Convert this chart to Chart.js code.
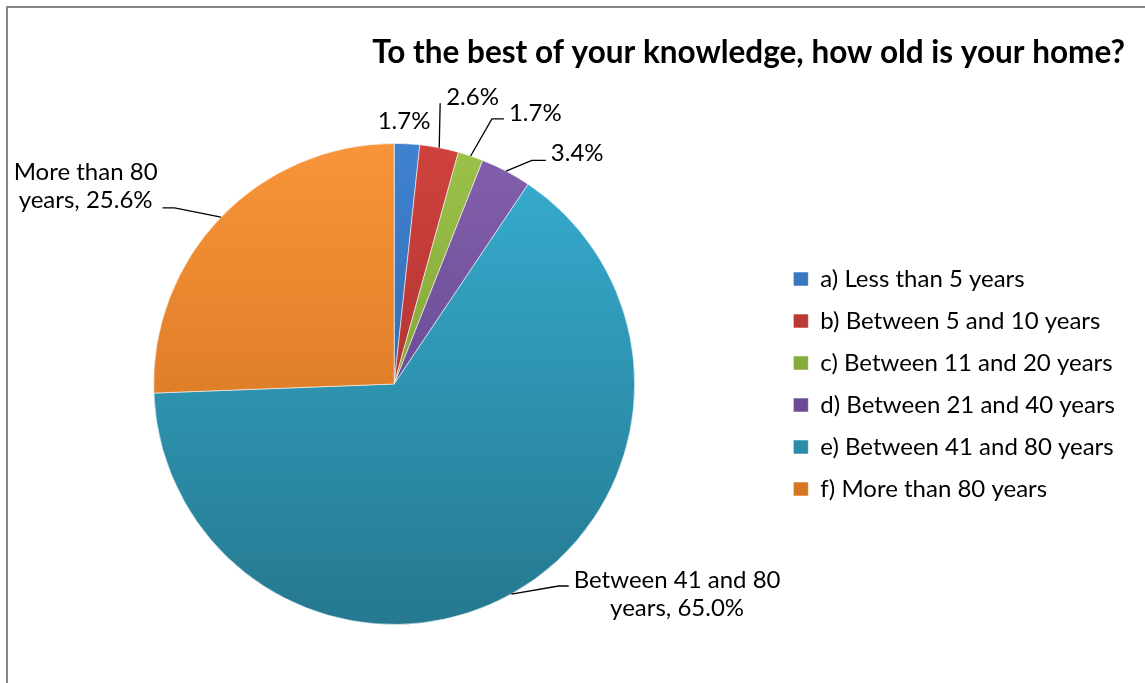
<!DOCTYPE html>
<html>
<head>
<meta charset="utf-8">
<script src="https://cdn.jsdelivr.net/npm/chart.js@4.4.1/dist/chart.umd.min.js"></script>
<style>
  html, body { margin: 0; padding: 0; background: #fff; overflow: hidden; }
  #frame { position: absolute; left: 6px; top: 6px; width: 1200px; height: 740px;
    border-left: 2px solid #868686; border-top: 2px solid #868686; }
  #chart { position: absolute; left: 0; top: 0; }
</style>
</head>
<body>
<div id="frame"></div>
<canvas id="chart" width="1145" height="683"></canvas>
<script>
const legendLabels = [
  'a) Less than 5 years',
  'b) Between 5 and 10 years',
  'c) Between 11 and 20 years',
  'd) Between 21 and 40 years',
  'e) Between 41 and 80 years',
  'f) More than 80 years'
]
const sliceNames = [
  'Less than 5 years',
  'Between 5 and 10 years',
  'Between 11 and 20 years',
  'Between 21 and 40 years',
  'Between 41 and 80 years',
  'More than 80 years'
]
const shares = [1.7, 2.6, 1.7, 3.4, 65.0, 25.6]
const showName = [false, false, false, false, true, true]

const FONT = 'Lato'
const topColors = ['#3f82d0', '#cf423d', '#9cc24a', '#8360ad', '#37aed2', '#f8953a']
const bottomColors = ['#28599a', '#98292a', '#6b8c2c', '#573b80', '#25788f', '#c86a18']

// where each data label sits: radial push, angle shift (deg), horizontal tail, text block offset
const labelPlace = [
  { dr: 22, da: -0.9, tail: 0, dy: 0, line: false },
  { dr: 44, da: -1.5, tail: 0, dy: -6, line: true },
  { dr: 42, da: 1.7, tail: 12, dy: -6, line: true },
  { dr: 22, da: 3.9, tail: 14, dy: -7, line: true },
  { dr: 20, da: -10, tail: 10, dy: 8, line: true },
  { dr: 41, da: -5.2, tail: 12, dy: -22, line: true }
]

function sliceFill (ctx) {
  const area = ctx.chart.chartArea
  const i = ctx.dataIndex
  if (!area) return topColors[i]
  const g = ctx.chart.ctx.createLinearGradient(0, area.top, 0, area.bottom)
  g.addColorStop(0, topColors[i])
  g.addColorStop(1, bottomColors[i])
  return g
}

const pieLabels = {
  id: 'pieLabels',
  afterDatasetsDraw (chart) {
    const c = chart.ctx
    const meta = chart.getDatasetMeta(0)
    const lh = 28
    c.save()
    c.font = '24px ' + FONT
    c.fillStyle = '#000'
    c.strokeStyle = '#000'
    c.lineWidth = 1.3
    c.textBaseline = 'middle'
    meta.data.forEach((arc, i) => {
      const p = arc.getProps(['x', 'y', 'startAngle', 'endAngle', 'outerRadius'], true)
      const place = labelPlace[i]
      const mid = (p.startAngle + p.endAngle) / 2
      const ex = p.x + p.outerRadius * Math.cos(mid)
      const ey = p.y + p.outerRadius * Math.sin(mid)
      const a2 = mid + place.da * Math.PI / 180
      const r2 = p.outerRadius + place.dr
      const kx = p.x + r2 * Math.cos(a2)
      const ky = p.y + r2 * Math.sin(a2)
      const right = Math.cos(a2) >= 0
      const tx = kx + (right ? place.tail : -place.tail)
      const pct = shares[i].toFixed(1) + '%'
      let lines = [pct]
      if (showName[i]) {
        const words = sliceNames[i].split(' ')
        const last = words.pop()
        lines = [words.join(' '), last + ', ' + pct]
      }
      if (!place.line) {
        c.textAlign = 'center'
        c.fillText(lines[0], kx, ky)
        return
      }
      c.beginPath()
      c.moveTo(ex, ey)
      c.lineTo(kx, ky)
      c.lineTo(tx, ky)
      c.stroke()
      const w = Math.max(...lines.map((s) => c.measureText(s).width))
      const gap = place.tail ? 5 : 6
      const cx = right ? tx + gap + w / 2 : tx - gap - w / 2
      const cy = ky + place.dy
      c.textAlign = 'center'
      lines.forEach((s, k) => {
        c.fillText(s, cx, cy + (k - (lines.length - 1) / 2) * lh)
      })
    })
    c.restore()
  }
}

const chart = new Chart(document.getElementById('chart'), {
  type: 'pie',
  data: {
    labels: legendLabels,
    datasets: [
      {
        data: shares,
        backgroundColor: sliceFill,
        borderColor: 'rgba(255, 255, 255, 0.55)',
        borderWidth: 1
      }
    ]
  },
  options: {
    responsive: false,
    animation: false,
    layout: { padding: { left: 13, right: 20, top: 0, bottom: 58 } },
    plugins: {
      title: {
        display: true,
        text: 'To the best of your knowledge, how old is your home?',
        align: 'end',
        color: '#000',
        font: { family: FONT, size: 31.5, weight: 'bold', lineHeight: 1.2 },
        padding: { top: 34, bottom: 71.2 }
      },
      legend: {
        position: 'right',
        fullSize: false,
        labels: {
          color: '#000',
          font: { family: FONT, size: 24 },
          boxWidth: 15,
          boxHeight: 14,
          padding: 18
        }
      },
      tooltip: { enabled: false }
    }
  },
  plugins: [pieLabels]
})
</script>
</body>
</html>
